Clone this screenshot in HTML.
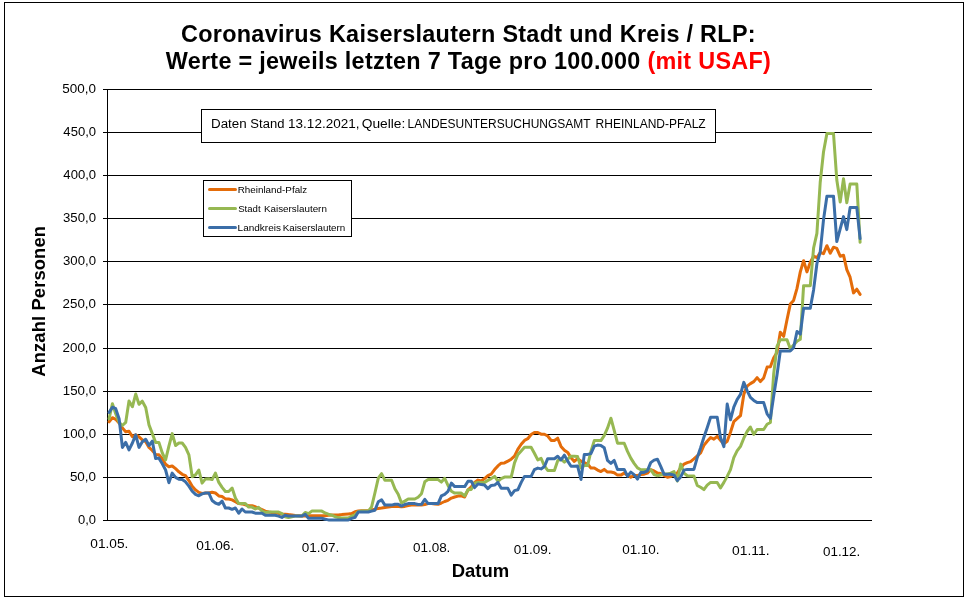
<!DOCTYPE html>
<html lang="de"><head><meta charset="utf-8"><title>Coronavirus Kaiserslautern</title>
<style>
html,body{margin:0;padding:0;background:#fff;}
body{width:967px;height:601px;overflow:hidden;}
svg{display:block;}
text{font-family:"Liberation Sans",sans-serif;fill:#000;}
.b{font-weight:bold;}
</style></head><body>
<svg width="967" height="601" viewBox="0 0 967 601">
<rect x="0" y="0" width="967" height="601" fill="#fff"/>
<rect x="4.5" y="2.5" width="959" height="594" fill="none" stroke="#000" stroke-width="1" shape-rendering="crispEdges"/>
<text class="b" x="181" y="41.9" font-size="23.4" textLength="574.6" lengthAdjust="spacing">Coronavirus Kaiserslautern Stadt und Kreis / RLP:</text>
<text class="b" x="165.7" y="68.9" font-size="23.4" textLength="605.2" lengthAdjust="spacing">Werte = jeweils letzten 7 Tage pro 100.000 <tspan fill="#ff0000">(mit USAF)</tspan></text>
<g stroke="#000" stroke-width="1" shape-rendering="crispEdges">
<line x1="103" y1="89.5" x2="872" y2="89.5"/>
<line x1="103" y1="132.5" x2="872" y2="132.5"/>
<line x1="103" y1="175.5" x2="872" y2="175.5"/>
<line x1="103" y1="218.5" x2="872" y2="218.5"/>
<line x1="103" y1="261.5" x2="872" y2="261.5"/>
<line x1="103" y1="304.5" x2="872" y2="304.5"/>
<line x1="103" y1="348.5" x2="872" y2="348.5"/>
<line x1="103" y1="391.5" x2="872" y2="391.5"/>
<line x1="103" y1="434.5" x2="872" y2="434.5"/>
<line x1="103" y1="477.5" x2="872" y2="477.5"/>
<line x1="103" y1="520.5" x2="872" y2="520.5"/>
<line x1="107.5" y1="89" x2="107.5" y2="521"/>
</g>
<text class="b" font-size="18.4" x="-75.4" y="0" textLength="150.8" lengthAdjust="spacing" transform="translate(44.9,301.35) rotate(-90)">Anzahl Personen</text>
<polyline points="109.1,421.8 112.4,417.7 115.7,419.3 119.1,423.0 122.4,428.0 125.7,431.8 129.0,431.2 132.4,436.8 135.7,434.9 139.0,436.8 142.3,439.9 145.7,441.8 149.0,447.4 152.3,450.5 155.6,454.4 158.9,454.7 162.3,458.7 165.6,464.3 168.9,466.8 172.2,466.0 175.6,468.7 178.9,471.8 182.2,474.3 185.5,475.6 188.9,480.6 192.2,486.2 195.5,489.9 198.8,492.4 202.1,493.4 205.5,493.0 208.8,493.0 212.1,492.2 215.4,493.0 218.8,495.9 222.1,496.5 225.4,498.9 228.7,499.0 232.1,499.9 235.4,501.8 238.7,503.6 242.0,503.9 245.3,504.9 248.7,505.8 252.0,505.8 255.3,506.8 258.6,508.0 262.0,509.6 265.3,511.1 268.6,512.0 271.9,512.4 275.2,512.7 278.6,513.4 281.9,513.9 285.2,514.2 288.5,514.6 291.9,514.9 295.2,515.5 298.5,515.7 301.8,516.1 305.2,516.1 308.5,515.7 311.8,515.7 315.1,515.7 318.4,515.7 321.8,515.7 325.1,515.7 328.4,515.2 331.7,514.9 335.1,514.9 338.4,514.9 341.7,514.6 345.0,514.2 348.4,513.9 351.7,513.6 355.0,511.7 358.3,511.1 361.6,510.7 365.0,510.7 368.3,510.7 371.6,509.9 374.9,509.3 378.3,508.4 381.6,508.0 384.9,507.4 388.2,507.0 391.6,506.4 394.9,506.4 398.2,506.4 401.5,506.8 404.8,506.4 408.2,505.5 411.5,505.1 414.8,505.1 418.1,505.1 421.5,505.1 424.8,504.5 428.1,503.6 431.4,503.6 434.8,503.9 438.1,504.3 441.4,503.0 444.7,501.5 448.0,500.3 451.4,498.1 454.7,497.0 458.0,496.1 461.3,495.8 464.7,497.0 468.0,489.8 471.3,486.9 474.6,482.4 478.0,480.1 481.3,480.9 484.6,478.6 487.9,475.6 491.2,474.1 494.6,469.6 497.9,465.9 501.2,463.2 504.5,462.9 507.9,461.1 511.2,459.2 514.5,456.2 517.8,449.4 521.2,444.2 524.5,440.4 527.8,438.7 531.1,434.5 534.4,432.5 537.8,432.5 541.1,434.2 544.4,434.2 547.7,436.0 551.1,440.4 554.4,440.4 557.7,438.2 561.0,446.4 564.4,450.2 567.7,452.4 571.0,457.7 574.3,461.4 577.6,458.6 581.0,461.1 584.3,462.6 587.6,464.1 590.9,467.9 594.3,467.9 597.6,470.1 600.9,471.6 604.2,469.4 607.5,472.1 610.9,472.1 614.2,472.7 617.5,475.1 620.8,475.1 624.2,473.1 627.5,475.1 630.8,477.3 634.1,475.4 637.5,475.4 640.8,474.6 644.1,474.2 647.4,473.1 650.7,469.7 654.1,470.9 657.4,473.1 660.7,473.6 664.0,475.4 667.4,477.3 670.7,476.6 674.0,474.2 677.3,473.1 680.7,467.9 684.0,464.1 687.3,462.6 690.6,461.6 693.9,458.9 697.3,455.9 700.6,452.9 703.9,445.4 707.2,441.2 710.6,437.5 713.9,439.2 717.2,436.3 720.5,440.4 723.9,443.7 727.2,441.2 730.5,432.2 733.8,421.7 737.1,418.7 740.5,415.7 743.8,394.4 747.1,386.1 750.4,383.6 753.8,381.6 757.1,377.6 760.4,381.6 763.7,377.9 767.1,367.1 770.4,366.7 773.7,357.7 777.0,352.5 780.3,332.2 783.7,336.3 787.0,319.8 790.3,304.1 793.6,300.4 797.0,288.4 800.3,271.9 803.6,260.7 806.9,271.9 810.3,262.2 813.6,256.2 816.9,257.7 820.2,252.5 823.5,253.7 826.9,245.7 830.2,253.2 833.5,247.2 836.8,248.3 840.2,256.2 843.5,255.2 846.8,269.7 850.1,277.2 853.5,292.9 856.8,289.2 860.1,294.4" fill="none" stroke="#E46C0A" stroke-width="3" stroke-linejoin="round" stroke-linecap="round"/>
<polyline points="109.1,418.7 112.4,403.7 115.7,413.7 119.1,422.4 122.4,425.5 125.7,422.4 129.0,401.0 132.4,406.8 135.7,394.0 139.0,404.3 142.3,401.2 145.7,407.5 149.0,424.9 152.3,433.6 155.6,442.4 158.9,442.4 162.3,453.0 165.6,459.8 168.9,446.1 172.2,433.6 175.6,445.5 178.9,443.0 182.2,443.0 185.5,447.4 188.9,454.9 192.2,476.8 195.5,474.9 198.8,470.0 202.1,483.1 205.5,478.9 208.8,478.7 212.1,479.6 215.4,473.1 218.8,482.4 222.1,487.4 225.4,491.5 228.7,491.5 232.1,488.0 235.4,498.0 238.7,503.6 242.0,503.6 245.3,503.6 248.7,507.1 252.0,507.1 255.3,509.0 258.6,507.4 262.0,511.1 265.3,512.4 268.6,512.0 271.9,512.0 275.2,512.0 278.6,512.0 281.9,513.6 285.2,516.7 288.5,517.6 291.9,516.7 295.2,516.1 298.5,516.1 301.8,516.1 305.2,512.4 308.5,513.6 311.8,511.1 315.1,511.1 318.4,511.1 321.8,511.1 325.1,513.0 328.4,514.2 331.7,515.2 335.1,516.7 338.4,517.6 341.7,518.0 345.0,518.0 348.4,518.0 351.7,516.1 355.0,514.9 358.3,511.7 361.6,511.1 365.0,511.1 368.3,511.1 371.6,506.8 374.9,493.0 378.3,478.1 381.6,473.7 384.9,480.3 388.2,480.3 391.6,480.3 394.9,488.7 398.2,494.3 401.5,503.0 404.8,501.1 408.2,499.0 411.5,499.0 414.8,499.0 418.1,497.2 421.5,493.7 424.8,481.8 428.1,479.6 431.4,479.6 434.8,479.6 438.1,479.6 441.4,482.1 444.7,478.3 448.0,485.4 451.4,491.3 454.7,493.1 458.0,493.1 461.3,493.1 464.7,495.8 468.0,489.8 471.3,489.4 474.6,483.1 478.0,482.4 481.3,482.4 484.6,482.4 487.9,480.4 491.2,478.6 494.6,476.4 497.9,481.2 501.2,478.6 504.5,477.1 507.9,477.1 511.2,477.1 514.5,462.9 517.8,454.7 521.2,450.9 524.5,447.2 527.8,447.2 531.1,447.2 534.4,453.2 537.8,459.9 541.1,458.4 544.4,465.9 547.7,470.4 551.1,470.4 554.4,470.4 557.7,460.7 561.0,459.2 564.4,462.2 567.7,459.2 571.0,456.2 574.3,456.2 577.6,456.6 581.0,467.9 584.3,465.6 587.6,465.6 590.9,451.4 594.3,440.6 597.6,440.6 600.9,440.6 604.2,435.7 607.5,428.2 610.9,418.2 614.2,430.4 617.5,443.2 620.8,443.2 624.2,443.2 627.5,451.4 630.8,458.1 634.1,463.4 637.5,467.9 640.8,469.7 644.1,469.7 647.4,469.7 650.7,469.7 654.1,474.6 657.4,475.7 660.7,475.1 664.0,473.9 667.4,473.9 670.7,473.1 674.0,471.6 677.3,481.0 680.7,464.1 684.0,473.1 687.3,475.7 690.6,476.1 693.9,476.1 697.3,485.5 700.6,487.3 703.9,489.6 707.2,485.1 710.6,482.4 713.9,482.4 717.2,482.4 720.5,487.9 723.9,482.4 727.2,476.4 730.5,469.6 733.8,457.7 737.1,450.9 740.5,446.4 743.8,438.2 747.1,431.5 750.4,427.0 753.8,434.5 757.1,429.5 760.4,429.5 763.7,429.5 767.1,424.3 770.4,422.5 773.7,373.7 777.0,346.5 780.3,339.7 783.7,339.7 787.0,339.7 790.3,348.7 793.6,345.0 797.0,341.2 800.3,339.3 803.6,285.7 806.9,285.7 810.3,285.7 813.6,248.0 816.9,233.3 820.2,182.5 823.5,152.0 826.9,133.5 830.2,133.5 833.5,133.5 836.8,180.0 840.2,202.0 843.5,178.7 846.8,202.7 850.1,184.0 853.5,184.0 856.8,184.0 860.1,242.3" fill="none" stroke="#96B852" stroke-width="3" stroke-linejoin="round" stroke-linecap="round"/>
<polyline points="109.1,412.4 112.4,407.2 115.7,408.7 119.1,418.7 122.4,447.4 125.7,442.4 129.0,449.9 132.4,443.0 135.7,434.9 139.0,447.4 142.3,441.8 145.7,439.3 149.0,445.5 152.3,441.1 155.6,458.5 158.9,458.1 162.3,463.7 165.6,470.0 168.9,482.7 172.2,473.1 175.6,477.4 178.9,479.3 182.2,479.6 185.5,481.8 188.9,486.2 192.2,491.2 195.5,494.3 198.8,495.8 202.1,493.9 205.5,493.0 208.8,493.0 212.1,500.5 215.4,503.0 218.8,504.3 222.1,501.1 225.4,508.0 228.7,508.0 232.1,509.3 235.4,508.0 238.7,513.2 242.0,509.0 245.3,512.0 248.7,512.0 252.0,512.0 255.3,513.2 258.6,513.2 262.0,513.2 265.3,515.2 268.6,515.2 271.9,515.2 275.2,515.2 278.6,516.1 281.9,517.4 285.2,515.2 288.5,516.1 291.9,516.1 295.2,516.1 298.5,516.1 301.8,516.1 305.2,514.2 308.5,518.2 311.8,518.2 315.1,518.2 318.4,518.2 321.8,518.2 325.1,519.2 328.4,519.9 331.7,519.9 335.1,519.9 338.4,519.9 341.7,519.9 345.0,519.9 348.4,519.9 351.7,518.4 355.0,517.4 358.3,512.0 361.6,512.0 365.0,512.0 368.3,512.0 371.6,511.1 374.9,510.2 378.3,501.8 381.6,499.9 384.9,505.1 388.2,505.1 391.6,505.1 394.9,504.3 398.2,504.3 401.5,506.1 404.8,504.5 408.2,503.6 411.5,503.6 414.8,503.6 418.1,504.5 421.5,504.3 424.8,499.3 428.1,503.6 431.4,503.6 434.8,503.6 438.1,503.6 441.4,495.8 444.7,494.3 448.0,491.3 451.4,483.1 454.7,486.6 458.0,486.6 461.3,486.6 464.7,486.6 468.0,481.2 471.3,481.2 474.6,487.6 478.0,483.9 481.3,484.6 484.6,485.1 487.9,488.6 491.2,485.4 494.6,485.1 497.9,482.4 501.2,488.3 504.5,488.3 507.9,488.3 511.2,495.1 514.5,490.6 517.8,489.8 521.2,482.4 524.5,476.4 527.8,476.4 531.1,476.4 534.4,469.6 537.8,468.1 541.1,468.9 544.4,466.6 547.7,458.7 551.1,458.7 554.4,458.7 557.7,456.2 561.0,459.9 564.4,455.1 567.7,461.1 571.0,466.2 574.3,466.2 577.6,466.1 581.0,479.5 584.3,454.4 587.6,454.4 590.9,453.6 594.3,446.2 597.6,445.1 600.9,445.4 604.2,447.7 607.5,460.4 610.9,463.4 614.2,460.4 617.5,469.4 620.8,469.4 624.2,469.4 627.5,476.1 630.8,472.1 634.1,474.6 637.5,479.1 640.8,472.4 644.1,472.4 647.4,470.9 650.7,462.6 654.1,460.1 657.4,459.2 660.7,466.4 664.0,474.2 667.4,474.2 670.7,474.2 674.0,475.1 677.3,480.6 680.7,476.9 684.0,470.1 687.3,469.4 690.6,469.4 693.9,469.4 697.3,457.4 700.6,447.7 703.9,437.2 707.2,427.7 710.6,417.2 713.9,417.2 717.2,417.2 720.5,437.5 723.9,446.7 727.2,404.1 730.5,419.8 733.8,407.1 737.1,399.6 740.5,394.4 743.8,382.4 747.1,390.6 750.4,397.4 753.8,400.4 757.1,402.6 760.4,402.6 763.7,402.6 767.1,413.8 770.4,418.3 773.7,395.9 777.0,374.9 780.3,351.0 783.7,351.0 787.0,351.0 790.3,351.0 793.6,347.7 797.0,331.5 800.3,334.1 803.6,308.2 806.9,308.2 810.3,308.2 813.6,289.9 816.9,263.7 820.2,252.1 823.5,219.9 826.9,196.2 830.2,196.2 833.5,196.2 836.8,241.6 840.2,228.9 843.5,216.6 846.8,229.6 850.1,207.6 853.5,207.6 856.8,207.6 860.1,238.6" fill="none" stroke="#3B6EA8" stroke-width="3" stroke-linejoin="round" stroke-linecap="round"/>
<rect x="201.5" y="109.5" width="514" height="33" fill="#fff" stroke="#000" stroke-width="1" shape-rendering="crispEdges"/>
<rect x="203.5" y="180.5" width="148" height="56" fill="#fff" stroke="#000" stroke-width="1" shape-rendering="crispEdges"/>
<line x1="209.5" y1="189.5" x2="235.5" y2="189.5" stroke="#E46C0A" stroke-width="3" stroke-linecap="round"/>
<line x1="209.5" y1="208.5" x2="235.5" y2="208.5" stroke="#96B852" stroke-width="3" stroke-linecap="round"/>
<line x1="209.5" y1="227.5" x2="235.5" y2="227.5" stroke="#3B6EA8" stroke-width="3" stroke-linecap="round"/>
<text y="127.9" font-size="12.5"><tspan x="210.99" textLength="35.71" lengthAdjust="spacingAndGlyphs">Daten</tspan> <tspan x="250.35" textLength="34.05" lengthAdjust="spacingAndGlyphs">Stand</tspan> <tspan x="288.10" textLength="71.36" lengthAdjust="spacingAndGlyphs">13.12.2021,</tspan> <tspan x="361.74" textLength="43.59" lengthAdjust="spacingAndGlyphs">Quelle:</tspan> <tspan x="407.61" textLength="182.67" lengthAdjust="spacingAndGlyphs">LANDESUNTERSUCHUNGSAMT</tspan> <tspan x="595.62" textLength="110.09" lengthAdjust="spacingAndGlyphs">RHEINLAND-PFALZ</tspan></text>
<text x="237.67" y="192.9" font-size="9.0" textLength="69.59" lengthAdjust="spacingAndGlyphs">Rheinland-Pfalz</text>
<text y="211.9" font-size="9.0"><tspan x="238.18" textLength="22.40" lengthAdjust="spacingAndGlyphs">Stadt</tspan> <tspan x="263.91" textLength="62.96" lengthAdjust="spacingAndGlyphs">Kaiserslautern</tspan></text>
<text y="230.9" font-size="9.0"><tspan x="237.63" textLength="43.29" lengthAdjust="spacingAndGlyphs">Landkreis</tspan> <tspan x="282.69" textLength="62.56" lengthAdjust="spacingAndGlyphs">Kaiserslautern</tspan></text>
<text x="90.29" y="548.0" font-size="13" textLength="38.02" lengthAdjust="spacingAndGlyphs">01.05.</text>
<text x="196.20" y="549.9" font-size="13" textLength="37.94" lengthAdjust="spacingAndGlyphs">01.06.</text>
<text x="301.77" y="551.8" font-size="13" textLength="37.53" lengthAdjust="spacingAndGlyphs">01.07.</text>
<text x="412.90" y="551.8" font-size="13" textLength="37.49" lengthAdjust="spacingAndGlyphs">01.08.</text>
<text x="513.89" y="554.0" font-size="13" textLength="37.62" lengthAdjust="spacingAndGlyphs">01.09.</text>
<text x="622.15" y="554.0" font-size="13" textLength="37.44" lengthAdjust="spacingAndGlyphs">01.10.</text>
<text x="732.14" y="554.8" font-size="13" textLength="37.45" lengthAdjust="spacingAndGlyphs">01.11.</text>
<text x="822.99" y="556.0" font-size="13" textLength="37.29" lengthAdjust="spacingAndGlyphs">01.12.</text>
<text class="b" x="451.67" y="576.8" font-size="18.4" textLength="57.45" lengthAdjust="spacingAndGlyphs">Datum</text>
<text x="62.34" y="92.9" font-size="13" textLength="33.73" lengthAdjust="spacingAndGlyphs">500,0</text>
<text x="63.39" y="135.9" font-size="13" textLength="32.70" lengthAdjust="spacingAndGlyphs">450,0</text>
<text x="63.39" y="178.9" font-size="13" textLength="32.70" lengthAdjust="spacingAndGlyphs">400,0</text>
<text x="63.00" y="221.9" font-size="13" textLength="32.99" lengthAdjust="spacingAndGlyphs">350,0</text>
<text x="63.00" y="264.9" font-size="13" textLength="32.99" lengthAdjust="spacingAndGlyphs">300,0</text>
<text x="62.58" y="307.9" font-size="13" textLength="33.44" lengthAdjust="spacingAndGlyphs">250,0</text>
<text x="62.58" y="351.9" font-size="13" textLength="33.44" lengthAdjust="spacingAndGlyphs">200,0</text>
<text x="62.85" y="394.9" font-size="13" textLength="33.17" lengthAdjust="spacingAndGlyphs">150,0</text>
<text x="62.85" y="437.9" font-size="13" textLength="33.17" lengthAdjust="spacingAndGlyphs">100,0</text>
<text x="69.90" y="480.9" font-size="13" textLength="26.19" lengthAdjust="spacingAndGlyphs">50,0</text>
<text x="78.06" y="523.9" font-size="13" textLength="18.00" lengthAdjust="spacingAndGlyphs">0,0</text>
</svg></body></html>
